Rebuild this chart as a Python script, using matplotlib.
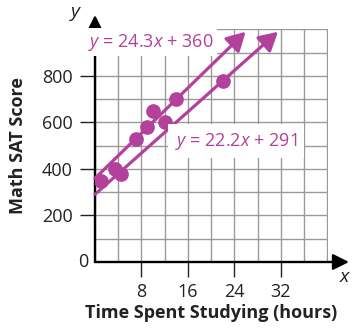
import matplotlib
matplotlib.use("Agg")
import matplotlib.pyplot as plt
from matplotlib.patches import FancyArrowPatch

plt.rcParams["font.family"] = ["Open Sans", "DejaVu Sans"]
plt.rcParams["mathtext.fontset"] = "custom"
plt.rcParams["mathtext.rm"] = "Open Sans"
plt.rcParams["mathtext.it"] = "Open Sans:italic"

# Study time (hours) and Math SAT scores
hours = [1, 3.5, 4.5, 7, 9, 10, 12, 14, 22]
scores = [350, 400, 380, 530, 580, 650, 600, 700, 780]

# Fitted lines: (slope, intercept)
line_upper = (24.3, 360)
line_lower = (22.2, 291)

x_ticks = [8, 16, 24, 32]
y_ticks = [200, 400, 600, 800]

MAGENTA = "#B3419B"
GRID = "#9a9a9a"
FS = 13

fig = plt.figure(figsize=(3.52, 3.29), dpi=100)
ax = fig.add_axes([95 / 352, 67 / 329, 233 / 352, 233 / 329])
ax.set_xlim(0, 40.1)
ax.set_ylim(0, 1002)

# grid every 4 hours / 100 points
ax.set_xticks(range(0, 41, 4), minor=True)
ax.set_yticks(range(0, 1001, 100), minor=True)
ax.set_xticks(x_ticks)
ax.set_yticks(y_ticks)
ax.grid(which="both", color=GRID, lw=1.0, zorder=0)
ax.set_axisbelow(True)
ax.tick_params(which="minor", length=0)
ax.set_xticklabels([str(t) for t in x_ticks], fontsize=FS, color="#222222")
ax.set_yticklabels([str(t) for t in y_ticks], fontsize=FS, color="#222222")
ax.tick_params(which="major", length=11, width=1.0, color="#222222", pad=4)
ax.tick_params(axis="y", pad=5)
ax.text(-0.03, 0, "0", transform=ax.transAxes, ha="right", va="center",
        fontsize=FS, color="#222222")
for s in ax.spines.values():
    s.set_visible(False)

# axes with arrowheads
for tip in [(1.09, 0), (0, 1.06)]:
    ax.add_patch(FancyArrowPatch((0, 0), tip, transform=ax.transAxes,
                                 arrowstyle="-|>,head_length=0.6,head_width=0.3",
                                 mutation_scale=16, lw=1.7, color="black",
                                 shrinkA=0, shrinkB=0, clip_on=False, zorder=3))
ax.text(-0.086, 1.073, "y", transform=ax.transAxes, ha="center", va="center",
        fontsize=FS + 1, style="italic", color="#222222")
ax.text(1.07, -0.064, "x", transform=ax.transAxes, ha="center", va="center",
        fontsize=FS + 1, style="italic", color="#222222")

# lines with arrowheads, ending near the top of the grid
y_top = 990
for m, b in (line_upper, line_lower):
    x_end = (y_top - b) / m
    ax.add_patch(FancyArrowPatch((0, b), (x_end, m * x_end + b),
                                 arrowstyle="-|>,head_length=0.75,head_width=0.42",
                                 mutation_scale=15, lw=2.3, color=MAGENTA,
                                 shrinkA=0, shrinkB=0, clip_on=False, zorder=4))

ax.scatter(hours, scores, s=112, color=MAGENTA, zorder=5, linewidths=0)

box = dict(facecolor="white", edgecolor="none", pad=2.5)
ax.text(-1.2, 945, f"$y$ = {line_upper[0]}$x$ + {line_upper[1]}", fontsize=FS,
        color=MAGENTA, ha="left", va="center", bbox=box, zorder=6, clip_on=False)
ax.text(13.7, 520, f"$y$ = {line_lower[0]}$x$ + {line_lower[1]}", fontsize=FS,
        color=MAGENTA, ha="left", va="center",
        bbox=dict(facecolor="white", edgecolor="none", pad=5), zorder=6)

ax.set_xlabel("Time Spent Studying (hours)", fontsize=FS, fontweight="bold",
              color="#222222")
ax.set_ylabel("Math SAT Score", fontsize=FS, fontweight="bold", color="#222222")
ax.xaxis.set_label_coords(0.5, -0.18)
ax.yaxis.set_label_coords(-0.29, 0.5)

fig.savefig("out.png", dpi=100)
